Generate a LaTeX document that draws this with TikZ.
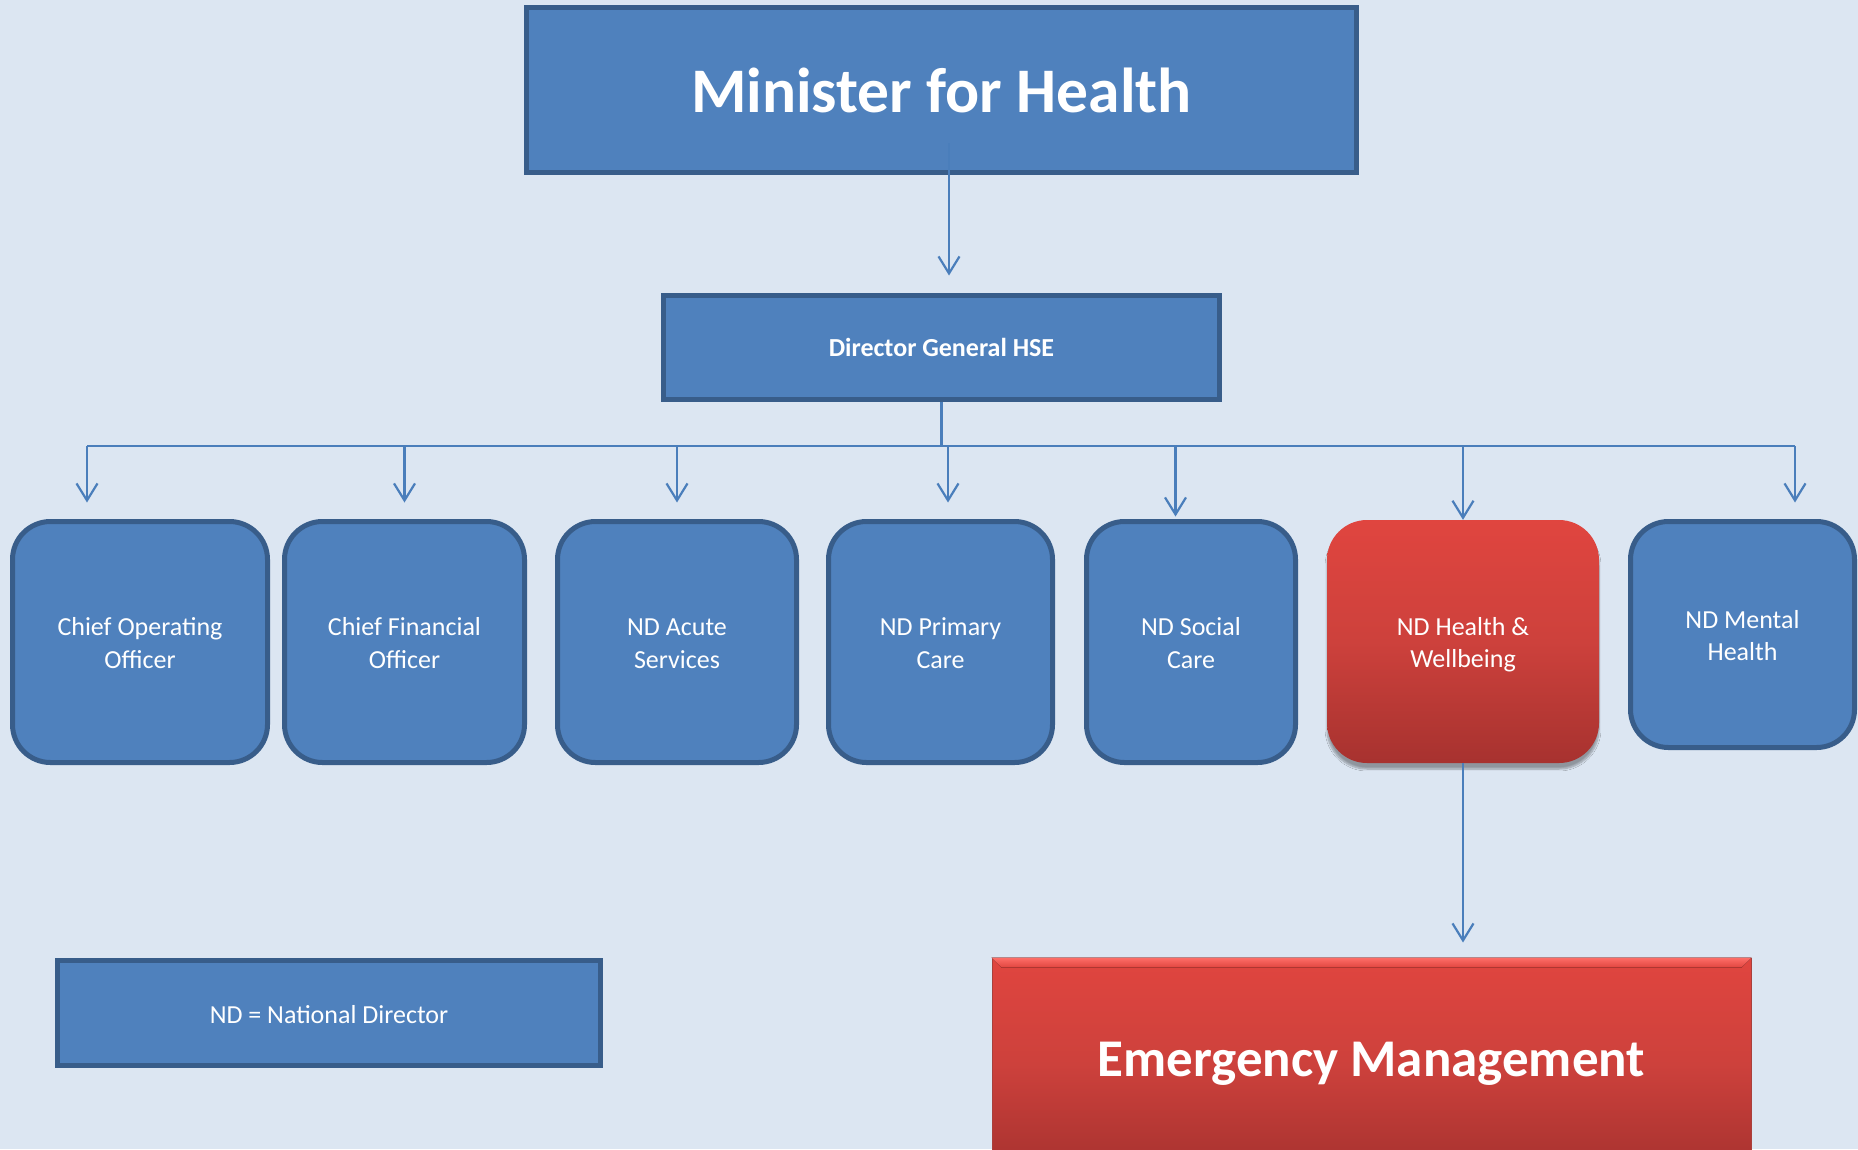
\documentclass[tikz,border=0pt]{standalone}
\usepackage{fontspec}
\setmainfont{Carlito}
\usetikzlibrary{arrows.meta,shadows.blur}
\definecolor{bg}{HTML}{DCE6F2}
\definecolor{bfill}{HTML}{4F81BD}
\definecolor{bdraw}{HTML}{385D8A}
\definecolor{conn}{HTML}{4A7EBB}
\definecolor{rtop}{HTML}{E0453F}
\definecolor{rmid}{HTML}{CD413C}
\definecolor{rbot}{HTML}{A7322F}
\definecolor{rhigh}{HTML}{FF6F69}
\definecolor{redge}{HTML}{A9403C}
\newcommand{\rowstrut}{\rule[-6pt]{0pt}{64pt}}
\newcommand{\legstrut}{\rule[-6pt]{0pt}{32pt}}
\begin{document}
\begin{tikzpicture}[x=1pt,y=-1pt,
  bluebox/.style={draw=bdraw, fill=bfill, line width=5pt, text=white, align=center, inner sep=0pt},
  roundbox/.style={bluebox, rounded corners=38pt},
  rowtext/.style={font=\fontsize{26}{32.5}\selectfont, execute at begin node=\rowstrut},
  legtext/.style={font=\fontsize{26}{32.5}\selectfont, execute at begin node=\legstrut},
  boldmid/.style={font=\fontsize{26}{32.5}\selectfont\bfseries},
  redbox/.style={top color=rtop, bottom color=rbot, middle color=rmid, text=white, align=center, inner sep=0pt},
  connline/.style={draw=conn, line width=2.2pt},
  arr/.style={connline, -{Straight Barb[length=17pt, width=21pt]}},
]
\clip (0,0) rectangle (1858,1149);
\useasboundingbox (0,0) rectangle (1858,1149);
\fill[bg] (0,0) rectangle (1858,1149);

% top boxes
\node[bluebox, minimum width=830pt, minimum height=165pt,
      font=\fontsize{63.5}{70}\selectfont\bfseries] (mh) at (941.5,90) {Minister for Health};
\node[bluebox, boldmid, minimum width=556pt, minimum height=104pt] (dg) at (941.5,347.5) {Director General HSE};

% row of boxes
\node[roundbox, rowtext, minimum width=255pt, minimum height=241pt] (coo) at (140,642) {Chief Operating\\Officer};
\node[roundbox, rowtext, minimum width=240pt, minimum height=241pt] (cfo) at (404.5,642) {Chief Financial\\Officer};
\node[roundbox, rowtext, minimum width=239pt, minimum height=241pt] (acu) at (677,642) {ND Acute\\Services};
\node[roundbox, rowtext, minimum width=224pt, minimum height=241pt] (pri) at (940.5,642) {ND Primary\\Care};
\node[roundbox, rowtext, minimum width=209pt, minimum height=241pt] (soc) at (1191,642) {ND Social\\Care};
\node[redbox, rowtext, rounded corners=40pt, minimum width=272pt, minimum height=243pt,
      blur shadow={shadow xshift=0pt, shadow yshift=-6pt, shadow blur steps=8, shadow opacity=35}] (hw) at (1463,641.5) {ND Health \&\\Wellbeing};
\node[roundbox, rowtext, minimum width=224pt, minimum height=226pt] (men) at (1742.5,634.5) {ND Mental\\Health};

% legend
\node[bluebox, legtext, minimum width=543pt, minimum height=105pt] (nd) at (329,1013) {ND = National Director};

% emergency management
\node[redbox, draw=redge, line width=1pt, minimum width=759pt, minimum height=212pt,
      font=\fontsize{53}{60}\selectfont\bfseries] (em) at (1371.5,1064) {Emergency Management};
\fill[top color=rhigh, bottom color=rtop]
  (em.north west) -- (em.north east) -- ([xshift=-10pt,yshift=-10pt]em.north east)
  -- ([xshift=10pt,yshift=-10pt]em.north west) -- cycle;

% connectors
\draw[arr] ([xshift=7.5pt,yshift=-53pt]mh.center) -- ([xshift=7.5pt,yshift=17.5pt]dg.north);

\coordinate (b1) at (87,446);
\coordinate (b2) at (404.5,446);
\coordinate (b3) at (677,446);
\coordinate (b4) at (948,446);
\coordinate (b5) at (1175.5,446);
\coordinate (b6) at (1463,446);
\coordinate (b7) at (1795,446);

\draw[connline] (dg.south) -- (dg.south |- b1);
\draw[connline] (b1) -- (b7);
\draw[arr] (b1) -- ([xshift=-53pt,yshift=16.5pt]coo.north);
\draw[arr] (b2) -- ([yshift=16.5pt]cfo.north);
\draw[arr] (b3) -- ([yshift=16.5pt]acu.north);
\draw[arr] (b4) -- ([xshift=7.5pt,yshift=16.5pt]pri.north);
\draw[arr] (b5) -- ([xshift=-15.5pt,yshift=2.5pt]soc.north);
\draw[arr] (b6) -- (hw.north);
\draw[arr] (b7) -- ([xshift=52.5pt,yshift=16.5pt]men.north);
\draw[arr] (hw.south) -- ([xshift=91.5pt,yshift=15pt]em.north);
\end{tikzpicture}
\end{document}
